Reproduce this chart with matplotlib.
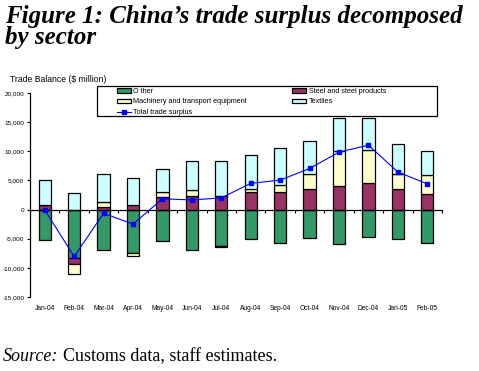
import matplotlib
matplotlib.use("Agg")
import matplotlib.pyplot as plt
import numpy as np
from matplotlib.transforms import blended_transform_factory
from matplotlib.patches import Rectangle

months = ["Jan-04", "Feb-04", "Mar-04", "Apr-04", "May-04", "Jun-04", "Jul-04",
          "Aug-04", "Sep-04", "Oct-04", "Nov-04", "Dec-04", "Jan-05", "Feb-05"]
other = [-5200, -8250, -6900, -7500, -5350, -6900, -6300, -5000, -5700, -4850, -5850, -4650, -5000, -5700]
steel = [700, -1150, 450, 800, 2150, 2350, 2350, 3050, 3050, 3550, 4050, 4550, 3550, 2700]
machinery = [150, -1600, 850, -400, 850, 1000, -200, 400, 1200, 2550, 5950, 5650, 2550, 3250]
textiles = [4250, 2850, 4800, 4600, 3950, 4950, 5950, 5900, 6300, 5650, 5650, 5450, 5200, 4100]
total = [-50, -8050, -650, -2500, 1850, 1650, 2000, 4500, 5050, 7050, 9850, 11050, 6450, 4400]

yticks = [20000, 15000, 10000, 5000, 0, -5000, -10000, -15000]
ytick_labels = ["20,000", "15,000", "10,000", "5,000", "0", "-5,000", "-10,000", "-15,000"]

series = [("O ther", other, "#339966"),
          ("Steel and steel products", steel, "#993366"),
          ("Machinery and transport equipment", machinery, "#FFFFCC"),
          ("Textiles", textiles, "#CCFFFF")]

sans = "Liberation Sans"
W, H = 479, 371
fig = plt.figure(figsize=(4.79, 3.71), dpi=100)
ax = fig.add_axes([30/W, 1-297/H, 412/W, 204/H])

x = np.arange(len(months))
pos_bottom = np.zeros(len(months))
neg_bottom = np.zeros(len(months))
handles = {}
for name, vals, col in series:
    v = np.array(vals, dtype=float)
    bottoms = np.where(v >= 0, pos_bottom, neg_bottom)
    b = ax.bar(x, v, width=0.42, bottom=bottoms, color=col, edgecolor="black",
               linewidth=0.9, label=name, zorder=2)
    handles[name] = b
    pos_bottom = pos_bottom + np.where(v >= 0, v, 0)
    neg_bottom = neg_bottom + np.where(v < 0, v, 0)

ln, = ax.plot(x, total, color="#0000FF", linewidth=0.8, marker="s", markersize=2.5,
              label="Total trade surplus", zorder=4)

ax.set_xlim(-0.5, len(months) - 0.5)
ax.set_ylim(-15000, 20000)
ax.set_yticks(yticks)
ax.set_yticklabels(ytick_labels, fontsize=4.6, family=sans)
ax.tick_params(axis="y", length=2.5, width=0.8, pad=1.5)

for s in ["top", "right"]:
    ax.spines[s].set_visible(False)
ax.spines["left"].set_linewidth(0.9)
ax.spines["bottom"].set_position(("data", 0))
ax.spines["bottom"].set_linewidth(0.9)
ax.spines["bottom"].set_zorder(3)
ax.set_xticks(np.arange(-0.5, len(months), 1.0))
ax.set_xticklabels([])
ax.tick_params(axis="x", length=2.5, width=0.8, direction="out")

tr = blended_transform_factory(ax.transData, ax.transAxes)
for i, m in enumerate(months):
    ax.text(i, -0.058, m, transform=tr, ha="center", va="center", fontsize=4.8, family=sans)

fig.text(10/W, 1-80/H, "Trade Balance ($ million)", fontsize=6.2, family=sans,
         ha="left", va="center")

# legend frame
fig.patches.append(Rectangle((97/W, 1-116/H), 340/W, 30/H, transform=fig.transFigure,
                             facecolor="white", edgecolor="black", linewidth=0.9, zorder=5))
order = [handles["O ther"], handles["Machinery and transport equipment"], ln,
         handles["Steel and steel products"], handles["Textiles"]]
labels = ["O ther", "Machinery and transport equipment", "Total trade surplus",
          "Steel and steel products", "Textiles"]
leg = fig.legend(order, labels, loc="upper left",
                 bbox_to_anchor=(115/W, 1-86/H), ncol=2,
                 prop={"family": sans, "size": 5.2},
                 frameon=False, borderaxespad=0, handlelength=1.9,
                 handleheight=0.6, labelspacing=0.5, borderpad=0.25, handletextpad=0.4,
                 columnspacing=6.2)
leg.set_zorder(6)

fig.text(5/W, 1-23/H, "Figure 1: China\u2019s trade surplus decomposed",
         fontsize=18, family="Liberation Serif", weight="bold", style="italic",
         ha="left", va="baseline")
fig.text(5/W, 1-44/H, "by sector",
         fontsize=18, family="Liberation Serif", weight="bold", style="italic",
         ha="left", va="baseline")

fig.text(3/W, 1-361/H, "Source:", fontsize=13, family="Liberation Serif",
         style="italic", ha="left", va="baseline")
fig.text(63/W, 1-361/H, "Customs data, staff estimates.", fontsize=13,
         family="Liberation Serif", ha="left", va="baseline")

fig.savefig("out.png", dpi=100)
